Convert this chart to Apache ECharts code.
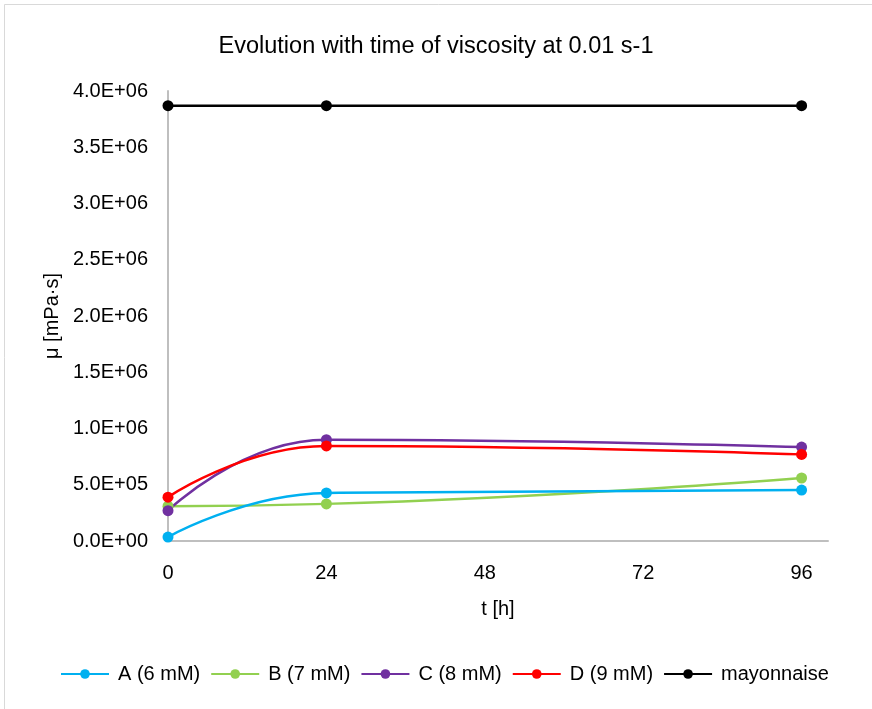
<!DOCTYPE html>
<html><head><meta charset="utf-8">
<script src="https://cdn.jsdelivr.net/npm/echarts@6/dist/echarts.min.js"></script>
<style>html,body{margin:0;padding:0;background:#fff}#c{width:872px;height:709px}</style>
</head><body><div id="c"></div>
<script>
const times = [0, 24, 96];
const seriesNames = ['A (6 mM)', 'B (7 mM)', 'C (8 mM)', 'D (9 mM)', 'mayonnaise'];
const valuesA = [35000, 427000, 453000];
const valuesB = [310000, 330000, 560000];
const valuesC = [270000, 900000, 835000];
const valuesD = [390000, 845000, 770000];
const valuesMayo = [3870000, 3870000, 3870000];
const xTicks = [0, 24, 48, 72, 96];
const colors = ['#00b0f0', '#92d050', '#7030a0', '#ff0000', '#000000'];
const allValues = [valuesA, valuesB, valuesC, valuesD, valuesMayo];

const FONT = '"Liberation Sans", Arial, sans-serif';
function fmtE(v) {
  if (v === 0) return '0.0E+00';
  const s = v.toExponential(1).toUpperCase();
  const m = s.match(/^(.*)E([+-])(\d+)$/);
  return m[1] + 'E' + m[2] + (m[3].length < 2 ? '0' + m[3] : m[3]);
}
const chart = echarts.init(document.getElementById('c'), null, {renderer: 'canvas'});
chart.setOption({
  animation: false,
  backgroundColor: '#fff',
  textStyle: {fontFamily: FONT},
  graphic: [{type: 'rect', shape: {x: 4.5, y: 4.5, width: 880, height: 720}, style: {fill: 'none', stroke: '#d9d9d9', lineWidth: 1}, silent: true}],
  title: {text: 'Evolution with time of viscosity at 0.01 s-1', left: 'center', top: 30,
    textStyle: {fontFamily: FONT, fontSize: 23.5, fontWeight: 'normal', color: '#000'}},
  grid: {left: 168, right: 44, top: 91, bottom: 168},
  legend: {bottom: 20, left: 55, itemWidth: 48, itemHeight: 12, itemGap: 10,
    textStyle: {fontFamily: FONT, fontSize: 20, color: '#000', padding: [0, 0, 0, 4]},
    data: seriesNames},
  xAxis: {type: 'value', min: 0, max: 100, interval: 24,
    name: 't [h]', nameLocation: 'middle', nameGap: 58,
    nameTextStyle: {fontFamily: FONT, fontSize: 20, color: '#000'},
    axisLine: {show: true, lineStyle: {color: '#bfbfbf', width: 2}},
    axisTick: {show: false}, splitLine: {show: false},
    axisLabel: {fontFamily: FONT, fontSize: 20, color: '#000', margin: 22, showMaxLabel: false,
      formatter: v => xTicks.indexOf(v) >= 0 ? String(v) : ''}},
  yAxis: {type: 'value', min: 0, max: 4000000, interval: 500000,
    name: 'μ [mPa·s]', nameLocation: 'middle', nameGap: 94,
    nameTextStyle: {fontFamily: FONT, fontSize: 20, color: '#000'},
    axisLine: {show: true, lineStyle: {color: '#bfbfbf', width: 2}},
    axisTick: {show: false}, splitLine: {show: false},
    axisLabel: {fontFamily: FONT, fontSize: 20, color: '#000', margin: 20, formatter: fmtE}},
  series: seriesNames.map((n, i) => ({
    name: n, type: 'line', smooth: 0.5,
    data: times.map((t, j) => [t, allValues[i][j]]),
    symbol: 'circle', symbolSize: 11,
    itemStyle: {color: colors[i]},
    lineStyle: {color: colors[i], width: 2.5},
    z: i === 0 ? 5 : 2
  }))
});
</script></body></html>
